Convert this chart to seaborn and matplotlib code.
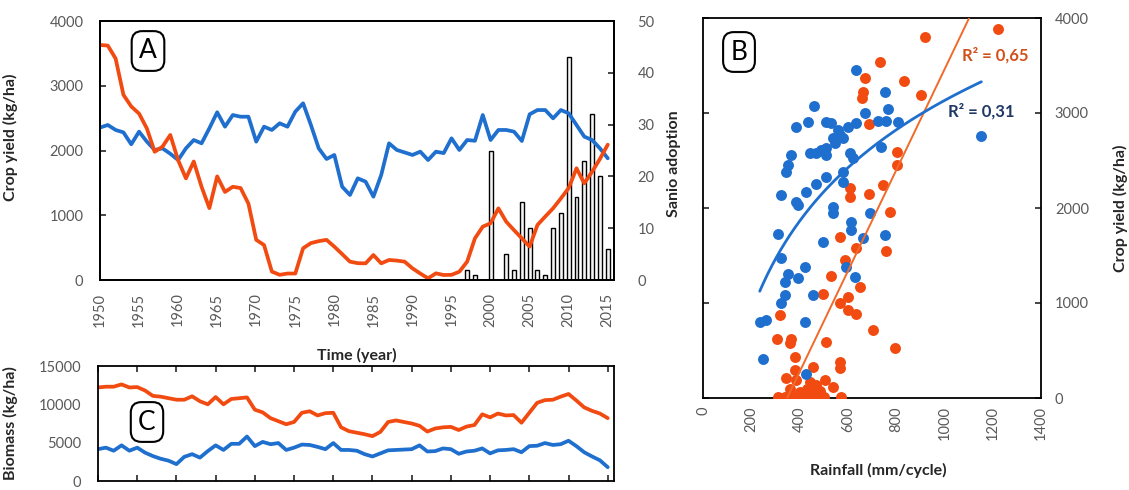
import numpy as np
import matplotlib
matplotlib.use("Agg")
import matplotlib.pyplot as plt
import seaborn as sns

# ---------------- data ----------------
years = list(range(1950, 2016))

yield_orange = [3630, 3620, 3420, 2860, 2680, 2570, 2340, 1980, 2060, 2240,
                1850, 1570, 1830, 1440, 1110, 1600, 1360, 1440, 1420, 1180,
                620, 540, 130, 80, 100, 100, 490, 570, 600, 620,
                515, 400, 283, 260, 257, 386, 257, 309, 300, 283,
                180, 100, 26, 103, 77, 80, 128, 283, 644, 824,
                876, 1107, 901, 770, 644, 515, 850, 980, 1107, 1260,
                1420, 1725, 1493, 1673, 1870, 2090]

yield_blue = [2354, 2394, 2317, 2280, 2096, 2291, 2137, 2008, 2033, 1950,
              1853, 2033, 2162, 2111, 2343, 2590, 2368, 2548, 2522, 2522,
              2137, 2368, 2317, 2420, 2368, 2600, 2729, 2394, 2033, 1869,
              1931, 1441, 1313, 1570, 1519, 1287, 1622, 2111, 2008, 1970,
              1931, 1982, 1853, 1982, 1960, 2188, 2008, 2162, 2150, 2548,
              2162, 2317, 2317, 2291, 2147, 2559, 2625, 2625, 2497, 2625,
              2574, 2394, 2214, 2162, 2033, 1880]

adopt_years = list(range(1997, 2016))
adopt_values = [2, 1, 0, 25, 0, 5, 2, 15, 10, 2, 1, 10, 13, 43, 16, 23, 32, 20, 6]

biomass_orange = [12200, 12300, 12300, 12600, 12200, 12250, 11800, 11100, 11000, 10800,
                  10600, 10600, 11050, 10400, 10000, 10950, 10000, 10700, 10800, 10900,
                  9300, 8950, 8200, 7800, 7400, 7700, 8900, 9100, 8550, 8850,
                  8900, 7000, 6500, 6300, 6100, 5850, 6400, 7700, 7900, 7700,
                  7500, 7200, 6450, 6850, 7000, 7060, 6650, 7100, 7300, 8700,
                  8300, 8800, 8550, 8600, 7600, 8900, 10200, 10550, 10600, 11000,
                  11350, 10500, 9600, 9150, 8800, 8200]

biomass_blue = [4150, 4350, 3950, 4650, 3950, 4350, 3700, 3250, 2900, 2650,
                2200, 3150, 3500, 3050, 3900, 4650, 4050, 4850, 4850, 5800,
                4550, 5100, 4800, 4950, 4050, 4350, 4750, 4700, 4450, 4150,
                4950, 4050, 4050, 3950, 3500, 3200, 3600, 4000, 4050, 4100,
                4150, 4650, 3850, 3900, 4250, 4150, 3550, 3850, 3950, 4250,
                3600, 4000, 4050, 4150, 3750, 4550, 4600, 4950, 4700, 4800,
                5250, 4550, 3750, 3200, 2700, 1800]

rain_blue = [635, 753, 766, 670, 460, 387, 435, 511, 532, 601, 635, 725, 760, 808,
             559, 566, 580, 539, 546, 511, 490, 442, 470, 511, 366, 352, 345, 608,
             621, 739, 511, 580, 580, 470, 428, 325, 387, 394, 539, 539, 691, 1153,
             311, 325, 421, 352, 338, 394, 338, 325, 456, 235, 260, 421, 249, 425,
             497, 615, 615, 663, 753, 594, 628]
crop_blue = [3453, 3224, 3039, 3003, 3074, 2849, 2909, 2909, 2892, 2849, 2892, 2916, 2916, 2909,
             2821, 2768, 2734, 2734, 2681, 2628, 2611, 2576, 2576, 2558, 2558, 2453, 2382, 2576,
             2523, 2645, 2329, 2382, 2277, 2253, 2172, 2137, 2066, 2032, 2014, 1944, 1944, 2758,
             1723, 1477, 1382, 1302, 1224, 1260, 1084, 997, 1084, 803, 821, 803, 407, 249,
             1645, 1856, 1768, 1681, 1716, 1382, 1277]

rain_orange = [1222, 918, 732, 670, 831, 663, 660, 902, 688, 804, 804, 746, 688, 608, 608, 773,
               566, 635, 757, 587, 532, 649, 497, 601, 566, 601, 635, 318, 704, 307, 366, 359,
               511, 794, 380, 566, 566, 380, 345, 387, 456, 504, 539, 442, 470,
               310, 340, 370, 395, 420, 445, 470, 500, 570, 400, 430, 455, 485, 360]
crop_orange = [3881, 3803, 3540, 3365, 3340, 3224, 3155, 3189, 2884, 2593, 2453, 2242, 2147, 2207, 2119, 1961,
               1698, 1576, 1547, 1453, 1288, 1172, 1091, 1066, 997, 926, 881, 874, 716, 621, 621, 576,
               593, 523, 435, 382, 313, 295, 207, 189, 330, 189, 119, 172, 137,
               10, 10, 15, 10, 20, 10, 5, 10, 10, 60, 90, 40, 70, 100]

r2_orange = "R² = 0,65"
r2_blue = "R² = 0,31"

# ---------------- style ----------------
sns.set_style("white")
plt.rcParams["font.family"] = ["Lato", "DejaVu Sans"]

BLUE = "#1f6fce"
ORANGE = "#f24b12"
TICKC = "#595959"
TS = 10.5   # tick label size
LS = 11.5   # axis label size

W, H = 1129, 490
fig = plt.figure(figsize=(W / 100, H / 100), dpi=100)


def box(l, t, r, b):
    return [l / W, (H - b) / H, (r - l) / W, (b - t) / H]


axA = fig.add_axes(box(100, 21, 614, 280))
axA2 = axA.twinx()
axC = fig.add_axes(box(98, 366, 614, 481))
axB = fig.add_axes(box(703, 18, 1041, 398))

for ax in (axA, axA2, axC, axB):
    for s in ax.spines.values():
        s.set_visible(True)
        s.set_color("black")
        s.set_linewidth(1.3)

# ---------------- panel A ----------------
axA2.bar(adopt_years, adopt_values, width=0.5, facecolor="#f4f4f4",
         edgecolor="black", linewidth=1.0)
axA2.set_ylim(0, 50)
axA2.set_yticks(range(0, 51, 10))
axA2.tick_params(axis="y", direction="in", length=4, width=1.2, pad=17,
                 labelsize=TS, labelcolor=TICKC)
axA2.set_ylabel("Sanio adoption", fontsize=LS, fontweight="bold")
axA2.yaxis.set_label_coords(1.103, 0.45)

axA.set_zorder(axA2.get_zorder() + 1)
axA.patch.set_visible(False)
sns.lineplot(x=years, y=yield_blue, ax=axA, color=BLUE, linewidth=2.7)
sns.lineplot(x=years, y=yield_orange, ax=axA, color=ORANGE, linewidth=2.7)
axA.set_xlim(1950, 2015.8)
axA.set_ylim(0, 4000)
axA.set_yticks(range(0, 4001, 1000))
axA.set_xticks(range(1950, 2016, 5))
axA.set_xticklabels([str(y) for y in range(1950, 2016, 5)], rotation=90)
axA.tick_params(axis="y", direction="in", length=4, width=1.2, pad=12,
                labelsize=TS, labelcolor=TICKC)
axA.tick_params(axis="x", direction="in", length=4, width=1.2, pad=9,
                labelsize=TS, labelcolor=TICKC)
axA.set_ylabel("Crop yield (kg/ha)", fontsize=LS, fontweight="bold")
axA.yaxis.set_label_coords(-0.16, 0.55)
axA.set_xlabel("Time (year)", fontsize=LS, fontweight="bold")
axA.xaxis.set_label_coords(0.5, -0.262)

# ---------------- panel C ----------------
sns.lineplot(x=years, y=biomass_blue, ax=axC, color=BLUE, linewidth=2.7)
sns.lineplot(x=years, y=biomass_orange, ax=axC, color=ORANGE, linewidth=2.7)
axC.set_xlim(1950, 2015.8)
axC.set_ylim(0, 15000)
axC.set_yticks(range(0, 15001, 5000))
axC.set_xticks(range(1950, 2016, 5))
axC.tick_params(axis="x", direction="in", length=4, width=1.2, top=True,
                bottom=True, labelbottom=False)
axC.tick_params(axis="y", direction="in", length=4, width=1.2, pad=12,
                labelsize=TS, labelcolor=TICKC)
axC.set_ylabel("Biomass (kg/ha)", fontsize=LS, fontweight="bold")
axC.yaxis.set_label_coords(-0.155, 0.5)
axC.set_xlabel("")

# ---------------- panel B ----------------
sns.scatterplot(x=rain_orange, y=crop_orange, ax=axB, color=ORANGE, s=62,
                linewidth=0, zorder=3)
sns.scatterplot(x=rain_blue, y=crop_blue, ax=axB, color=BLUE, s=62,
                linewidth=0, zorder=3)

ob = np.polyfit(rain_orange, crop_orange, 1)
xo = np.linspace(min(rain_orange), max(rain_orange), 100)
axB.plot(xo, np.polyval(ob, xo), color="#f06a2a", linewidth=1.4, zorder=4)

bb = np.polyfit(np.log(rain_blue), crop_blue, 1)
xb = np.linspace(min(rain_blue), max(rain_blue), 200)
axB.plot(xb, bb[0] * np.log(xb) + bb[1], color=BLUE, linewidth=2.0, zorder=4)

axB.set_xlim(0, 1400)
axB.set_ylim(0, 4000)
axB.set_xticks(range(0, 1401, 200))
axB.set_xticklabels([str(v) for v in range(0, 1401, 200)], rotation=90)
axB.set_yticks(range(0, 4001, 1000))
axB.yaxis.tick_right()
axB.tick_params(axis="y", direction="in", length=4, width=1.2, left=True,
                right=True, labelleft=False, labelright=True, pad=10,
                labelsize=TS, labelcolor=TICKC)
axB.tick_params(axis="x", direction="in", length=4, width=1.2, pad=6,
                labelsize=TS, labelcolor=TICKC)
axB.yaxis.set_label_position("right")
axB.set_ylabel("Crop yield (kg/ha)", fontsize=LS, fontweight="bold",
               rotation=90)
axB.yaxis.set_label_coords(1.213, 0.5)
axB.set_xlabel("Rainfall (mm/cycle)", fontsize=LS, fontweight="bold")
axB.xaxis.set_label_coords(0.518, -0.17)

fig.text(995 / W, 1 - 55.5 / H, r2_orange, color="#d2501a", fontsize=12,
         fontweight="bold", ha="center", va="center")
fig.text(981 / W, 1 - 111.5 / H, r2_blue, color="#1f3864", fontsize=12,
         fontweight="bold", ha="center", va="center")

# panel letters
for letter, cx, cy in (("A", 148, 51), ("B", 739, 52), ("C", 147, 422)):
    fig.text(cx / W, 1 - cy / H, letter, ha="center", va="center",
             fontsize=19, color="black",
             bbox=dict(boxstyle="round,pad=0.28,rounding_size=0.4",
                       fc="white", ec="black", lw=1.5))

fig.savefig("out.png", dpi=100)
